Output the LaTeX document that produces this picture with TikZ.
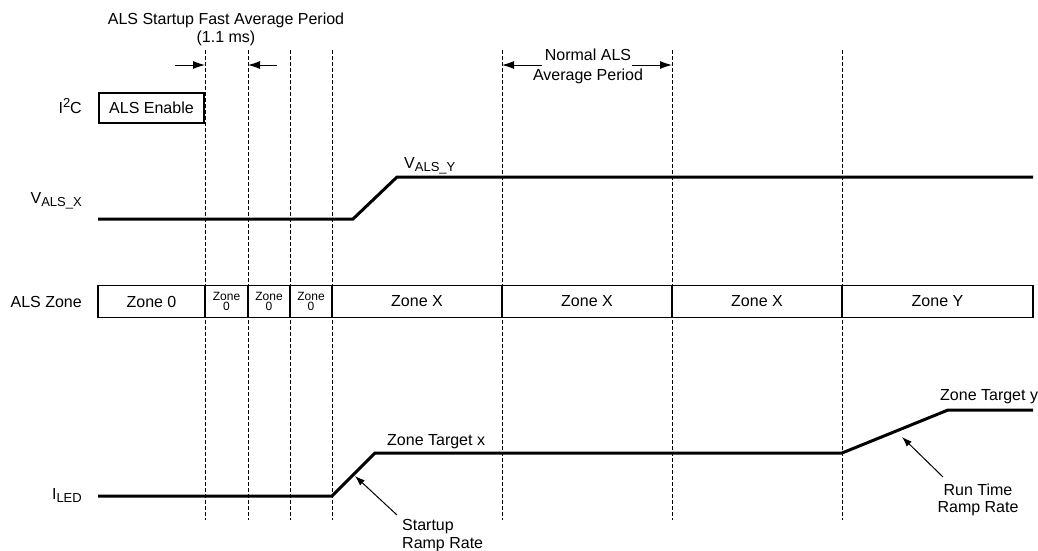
\documentclass[tikz,border=0pt]{standalone}
\usepackage{fontspec}
\setmainfont{Liberation Sans}
\usetikzlibrary{arrows.meta}
\newcommand{\subtxt}[1]{\raisebox{-3.5pt}{\fontsize{13}{13}\selectfont #1}}
\newcommand{\suptxt}[1]{\raisebox{6pt}{\fontsize{13}{13}\selectfont #1}}
\begin{document}
\begin{tikzpicture}[x=1pt,y=-1pt,
  lbl/.style={inner sep=0pt, font=\fontsize{16}{18}\selectfont},
  sig/.style={line width=3pt, line join=miter},
  gridline/.style={dash pattern=on 4pt off 2pt, line width=0.8pt},
  dimarr/.style={line width=1pt,-{Latex[length=12pt,width=8pt]}},
  ptr/.style={line width=1pt,-{Latex[length=10pt,width=7pt]}},
  cell/.style={draw, line width=1.6pt, minimum height=32pt, inner sep=0pt, font=\fontsize{16}{18}\selectfont},
  smallcell/.style={cell, font=\fontsize{12}{11}\selectfont, align=center},
]
\useasboundingbox (0,0) rectangle (1038,550);

% time grid
\foreach \x [count=\i] in {205,248,290,332,502,672,842} {
  \coordinate (t\i) at (\x,50);
  \coordinate (b\i) at (\x,520);
  \draw[gridline] (t\i) -- (b\i);
}

% titles
\node[lbl, anchor=base] (title1) at (226,24) {ALS Startup Fast Average Period};
\node[lbl, anchor=base] (title2) at (226,42) {(1.1 ms)};
\coordinate (sa1) at (175,65); \coordinate (sa1e) at (205,65);
\coordinate (sa2) at (277,65); \coordinate (sa2e) at (248,65);
\draw[dimarr] (sa1) -- (sa1e);
\draw[dimarr] (sa2) -- (sa2e);

\node[lbl, anchor=base] (norm1) at (588,60) {Normal ALS};
\node[lbl, anchor=base] (norm2) at (588,80) {Average Period};
\coordinate (na1) at (542,65); \coordinate (na1e) at (502,65);
\coordinate (na2) at (632,65); \coordinate (na2e) at (672,65);
\draw[dimarr] (na1) -- (na1e);
\draw[dimarr] (na2) -- (na2e);

% I2C row
\node[lbl, anchor=base east] (i2c) at (82,113) {I\suptxt{2}C};
\node[draw, line width=1.8pt, minimum width=105pt, minimum height=30pt, inner sep=0pt,
      font=\fontsize{16}{18}\selectfont] (en) at (151.5,108) {ALS Enable};

% VALS row
\node[lbl, anchor=base east] (vx) at (82,203) {V\subtxt{ALS\_X}};
\node[lbl, anchor=base west] (vy) at (404,168) {V\subtxt{ALS\_Y}};
\coordinate (v0) at (98,219);
\coordinate (v1) at (353,219);
\coordinate (v2) at (397,177);
\coordinate (v3) at (1033,177);
\draw[sig] (v0) -- (v1) -- (v2) -- (v3);

% ALS zone row
\node[lbl, anchor=east] (zl) at (82,302) {ALS Zone};
\node[cell, minimum width=107pt] (z1) at (151.5,301.5) {Zone 0};
\node[smallcell, minimum width=43pt] (z2) at (226.5,301.5) {Zone\\[-1pt]0};
\node[smallcell, minimum width=42pt] (z3) at (269,301.5) {Zone\\[-1pt]0};
\node[smallcell, minimum width=42pt] (z4) at (311,301.5) {Zone\\[-1pt]0};
\node[cell, minimum width=170pt] (z5) at (417,301.5) {Zone X};
\node[cell, minimum width=170pt] (z6) at (587,301.5) {Zone X};
\node[cell, minimum width=170pt] (z7) at (757,301.5) {Zone X};
\node[cell, minimum width=191pt] (z8) at (937.5,301.5) {Zone Y};

% ILED row
\node[lbl, anchor=base east] (iled) at (82,499) {I\subtxt{LED}};
\coordinate (l0) at (98,496);
\coordinate (l1) at (332,496);
\coordinate (l2) at (375,453);
\coordinate (l3) at (842,453);
\coordinate (l4) at (948,410);
\coordinate (l5) at (1033,410);
\draw[sig] (l0) -- (l1) -- (l2) -- (l3) -- (l4) -- (l5);
\node[lbl, anchor=base west] (tx) at (387,445) {Zone Target x};
\node[lbl, anchor=base west] (ty) at (940,400) {Zone Target y};

% ramp pointers
\node[lbl, anchor=base west] (sr1) at (402,530) {Startup};
\node[lbl, anchor=base west] (sr2) at (402,548) {Ramp Rate};
\coordinate (sp0) at (397,515); \coordinate (sp1) at (355,476);
\draw[ptr] (sp0) -- (sp1);
\node[lbl, anchor=base] (rr1) at (978,495) {Run Time};
\node[lbl, anchor=base] (rr2) at (978,512) {Ramp Rate};
\coordinate (rp0) at (943,477); \coordinate (rp1) at (902,437);
\draw[ptr] (rp0) -- (rp1);
\end{tikzpicture}
\end{document}
